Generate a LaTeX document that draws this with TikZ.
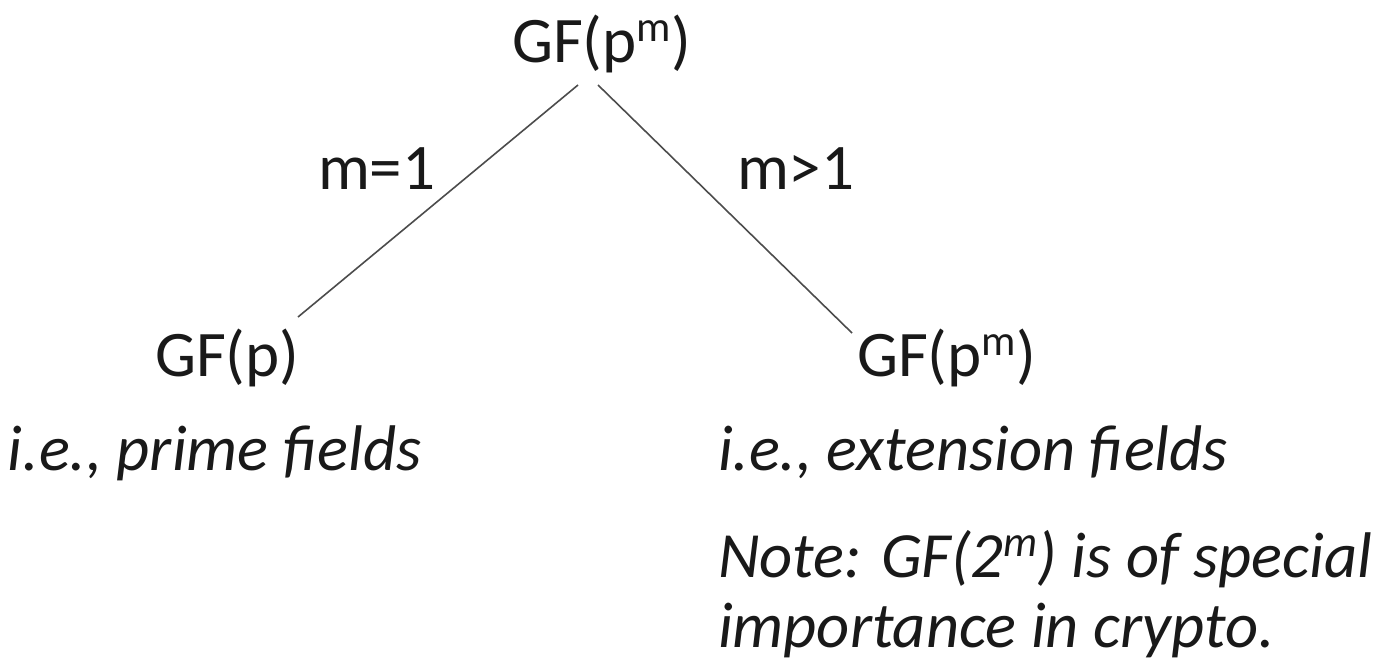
\documentclass[tikz,border=0pt]{standalone}
\usepackage{fontspec}
\setmainfont{Carlito}
\newcommand{\supm}{\raisebox{0.32em}{\fontsize{43}{43}\selectfont m}}
\begin{document}
\begin{tikzpicture}[x=1pt,y=-1pt,
  lbl/.style={anchor=base west,inner sep=0pt,outer sep=0pt,font=\fontsize{65}{78}\selectfont,text=black!90},
  itl/.style={lbl,font=\fontsize{64.5}{78}\selectfont\itshape},
  edge/.style={draw=black!70,line width=1.6pt}]
\useasboundingbox (0,0) rectangle (1378,664);
\node[lbl] (top) at (512,62) {GF(p\supm)};
\node[lbl] (m1) at (318,189) {m=1};
\node[lbl] (mg) at (737,189) {m>1};
\node[lbl] (left) at (155,376) {GF(p)};
\node[lbl] (right) at (857,376) {GF(p\supm)};
\node[itl] (prime) at (8,470) {i.e., prime fields};
\node[itl] (ext) at (718,470) {i.e., extension fields};
\node[itl] (note1) at (718,577) {Note: GF(2\supm) is of special};
\node[itl] (note2) at (718,647) {importance in crypto.};
\coordinate (a1) at (578,85);
\coordinate (b1) at (298,317);
\coordinate (a2) at (598,85);
\coordinate (b2) at (852,333);
\draw[edge] (a1) -- (b1);
\draw[edge] (a2) -- (b2);
\end{tikzpicture}
\end{document}
